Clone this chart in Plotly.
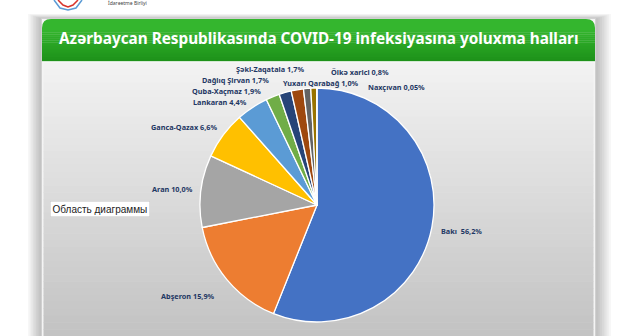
import plotly.graph_objects as go

# ---- data ----
regions = ["Bakı", "Abşeron", "Aran", "Ganca-Qazax", "Lankaran", "Quba-Xaçmaz",
           "Dağlıq Şirvan", "Şəki-Zaqatala", "Yuxarı Qarabağ", "Ölkə xarici", "Naxçıvan"]
shares = [56.2, 15.9, 10.0, 6.6, 4.4, 1.9, 1.7, 1.7, 1.0, 0.8, 0.05]
share_labels = ["56,2%", "15,9%", "10,0%", "6,6%", "4,4%", "1,9%", "1,7%", "1,7%",
                "1,0%", "0,8%", "0,05%"]
colors = ["#4472C4", "#ED7D31", "#A5A5A5", "#FFC000", "#5B9BD5", "#70AD47",
          "#264478", "#9E480E", "#636363", "#997300", "#255E91"]
title_text = "Azərbaycan Respublikasında COVID-19 infeksiyasına yoluxma halları"

# label placement (pixel centres in the 640x336 picture)
label_pos = [(461, 231), (188, 296), (172, 189), (184, 127), (220, 102), (226, 91),
             (235, 80), (270, 69), (321, 83), (360, 72), (396, 87)]

W, H = 640, 336
def px(x):
    return x / W
def py(y):
    return 1 - y / H

fig = go.Figure()

cx, cy, r = 317, 205, 117
fig.add_trace(go.Pie(
    labels=regions, values=shares, sort=False, direction="clockwise", rotation=0,
    marker=dict(colors=colors, line=dict(color="white", width=1.3)),
    textinfo="none", hoverinfo="label+percent", showlegend=False,
    domain=dict(x=[px(cx - r), px(cx + r)], y=[py(cy + r), py(cy - r)]),
))

PX0, PX1 = 42, 595
shapes = []
# panel shadows
for i in range(8):
    shapes.append(dict(type="rect", xref="paper", yref="paper", layer="below",
                       x0=px(PX0 - 14 + i * 1.6), x1=px(PX1 + 16 - i * 1.8),
                       y0=0, y1=py(14 + i * 0.6),
                       fillcolor="rgba(0,0,0,0.03)", line=dict(width=0)))
# panel light border
shapes.append(dict(type="rect", xref="paper", yref="paper", layer="below",
                   x0=px(PX0 - 0.5), x1=px(PX1 + 0.5), y0=py(337), y1=py(18.5),
                   fillcolor="#f4f4f4", line=dict(color="#d0d0d0", width=1)))
# gray gradient plot area
top, bot = 62, 336
n = 40
c0, c1 = (242, 242, 242), (195, 195, 195)
for i in range(n):
    t = i / (n - 1)
    c = tuple(int(round(c0[k] + (c1[k] - c0[k]) * t)) for k in range(3))
    y0 = top + (bot - top) * i / n
    y1 = top + (bot - top) * (i + 1) / n + 0.5
    shapes.append(dict(type="rect", xref="paper", yref="paper", layer="below",
                       x0=px(PX0 + 1.5), x1=px(PX1 - 1.5), y0=py(y1), y1=py(y0),
                       fillcolor=f"rgb{c}", line=dict(width=0)))

# green header with rounded top corners (gradient)
def hdr_path(x0, x1, y0, y1, rr):
    X0, X1 = px(x0), px(x1)
    Y0, Y1 = py(y0), py(y1)
    rx, ry = rr / W, rr / H
    return (f"M {X0},{Y1} L {X0},{Y0 - ry} Q {X0},{Y0} {X0 + rx},{Y0} "
            f"L {X1 - rx},{Y0} Q {X1},{Y0} {X1},{Y0 - ry} L {X1},{Y1} Z")
htop, hbot = 19, 61
g0, g1 = (52, 182, 46), (30, 146, 26)
shapes.append(dict(type="path", xref="paper", yref="paper", layer="below",
                   path=hdr_path(PX0, PX1, htop, htop + 10, 9),
                   fillcolor=f"rgb{g0}", line=dict(width=0)))
nb = 16
for i in range(nb):
    t = i / (nb - 1)
    c = tuple(int(round(g0[k] + (g1[k] - g0[k]) * t)) for k in range(3))
    y0 = htop + 9 + (hbot - htop - 9) * i / nb
    y1 = htop + 9 + (hbot - htop - 9) * (i + 1) / nb + 0.4
    shapes.append(dict(type="rect", xref="paper", yref="paper", layer="below",
                       x0=px(PX0), x1=px(PX1), y0=py(y1), y1=py(y0),
                       fillcolor=f"rgb{c}", line=dict(width=0)))
shapes.append(dict(type="line", xref="paper", yref="paper", layer="below",
                   x0=px(PX0), x1=px(PX1), y0=py(61.8), y1=py(61.8),
                   line=dict(color="rgba(255,255,255,0.9)", width=1)))

# logo fragment
shapes.append(dict(type="path", xref="paper", yref="paper",
                   path=f"M {px(54)},{py(0)} L {px(60)},{py(8)} L {px(68)},{py(10)} "
                        f"L {px(76)},{py(8)} L {px(82)},{py(0)}",
                   line=dict(color="#5B9BD5", width=1.5)))
shapes.append(dict(type="path", xref="paper", yref="paper",
                   path=f"M {px(58)},{py(0)} L {px(63)},{py(5)} L {px(68)},{py(7)} "
                        f"L {px(73)},{py(5)} L {px(78)},{py(0)}",
                   line=dict(color="#D9342B", width=1.5)))

annotations = []
annotations.append(dict(x=px(319), y=py(38), xref="paper", yref="paper",
                        xanchor="center", yanchor="middle",
                        text=f"<b>{title_text}</b>", showarrow=False,
                        font=dict(family="Noto Sans", size=15.3, color="white")))
for name, lab, (lx, ly) in zip(regions, share_labels, label_pos):
    sep = "  " if name == "Bakı" else " "
    annotations.append(dict(x=px(lx), y=py(ly), xref="paper", yref="paper",
                            xanchor="center", yanchor="middle",
                            text=f"<b>{name}{sep}{lab}</b>", showarrow=False,
                            font=dict(family="Noto Sans", size=7.3, color="#1F3864")))
annotations.append(dict(x=px(99.5), y=py(208.5), xref="paper", yref="paper",
                        xanchor="center", yanchor="middle",
                        text="Область диаграммы", showarrow=False,
                        bgcolor="white", bordercolor="#c8c8c8", borderwidth=0.5,
                        borderpad=2,
                        font=dict(family="Liberation Sans", size=10, color="#222222")))
annotations.append(dict(x=px(127), y=py(3.5), xref="paper", yref="paper",
                        xanchor="center", yanchor="middle",
                        text="İdarəetmə Birliyi", showarrow=False,
                        font=dict(family="Noto Sans", size=5, color="#444444")))

fig.update_layout(
    width=W, height=H, margin=dict(l=0, r=0, t=0, b=0),
    paper_bgcolor="white", plot_bgcolor="white",
    shapes=shapes, annotations=annotations,
)

fig.write_html("out.html")
